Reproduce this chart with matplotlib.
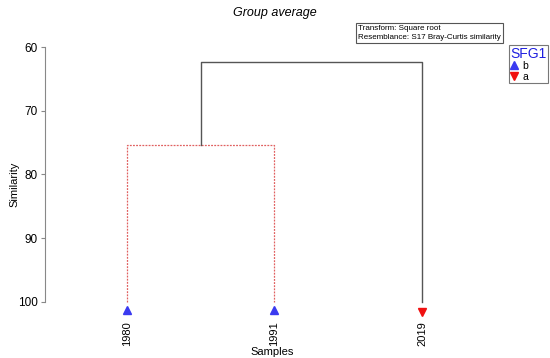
import matplotlib
matplotlib.use('Agg')
from matplotlib import pyplot as plt
from matplotlib.lines import Line2D

plt.rcParams['font.family'] = ['Liberation Sans', 'DejaVu Sans']

samples = ['1980', '1991', '2019']
groups = ['b', 'b', 'a']
leafPos = [0, 1, 2]
mergeLow = 75.4    # 1980 + 1991
mergeTop = 62.3    # (1980,1991) + 2019
groupColor = {'b': '#3a3af0', 'a': '#f01010'}
groupMarker = {'b': '^', 'a': 'v'}

fig = plt.figure(figsize=(5.5, 3.58), dpi=100)
ax = fig.add_axes([45/550, 1-321/358, 455/550, 274/358])
ax.set_xlim(-0.554, 2.527)
ax.set_ylim(103, 60)

lineCol = '#555555'
red = '#e06060'
# lower cluster (dotted red)
x0, x1 = leafPos[0], leafPos[1]
ax.plot([x0, x0, x1, x1], [100, mergeLow, mergeLow, 100], color=red, lw=0.9, ls=(0, (1.5, 1)))
# top cluster
xm = (x0 + x1) / 2.0
ax.plot([xm, xm, leafPos[2], leafPos[2]], [mergeLow, mergeTop, mergeTop, 100], color=lineCol, lw=1.0)

for x, g in zip(leafPos, groups):
    yy = 101.2 if g == 'b' else 101.6
    ax.plot(x, yy, marker=groupMarker[g], color=groupColor[g], ms=6, ls='none', clip_on=False)

for s in ['top', 'right', 'bottom']:
    ax.spines[s].set_visible(False)
ax.spines['left'].set_bounds(60, 100)
ax.spines['left'].set_color('#888888')
ax.set_yticks([60, 70, 80, 90, 100])
ax.tick_params(axis='y', colors='#888888', labelcolor='black', labelsize=8.5, length=3, pad=2)
ax.set_xticks(leafPos)
ax.set_xticklabels(samples, rotation=90, fontsize=8)
ax.tick_params(axis='x', length=0, pad=0)
ax.set_ylabel('Similarity', fontsize=8)
ax.yaxis.set_label_coords(-26/455, 0.5)
ax.set_xlabel('Samples', fontsize=8)
ax.xaxis.set_label_coords(0.5, -26/274)

fig.text(275/550, 1-13/358, 'Group average', ha='center', va='center', fontsize=9, style='italic')
fig.text(358/550, 1-33/358, 'Transform: Square root\nResemblance: S17 Bray-Curtis similarity',
         ha='left', va='center', fontsize=5.8, linespacing=1.3,
         bbox=dict(boxstyle='square,pad=0.25', fc='white', ec='#555555', lw=0.8))

handles = [Line2D([], [], marker='^', color=groupColor['b'], ls='none', ms=6),
           Line2D([], [], marker='v', color=groupColor['a'], ls='none', ms=6)]
leg = fig.legend(handles, ['b', 'a'], title='SFG1', loc='upper right', bbox_to_anchor=(548/550, 1-45/358),
                 fontsize=7.5, title_fontsize=10, frameon=True, fancybox=False, edgecolor='#555555',
                 handlelength=0.8, handletextpad=0.4, borderpad=0.15, labelspacing=0.05, borderaxespad=0)
leg.get_title().set_color('#2020e0')
leg.get_frame().set_linewidth(0.8)
leg._legend_box.align = 'left'

plt.savefig('out.png', dpi=100)
